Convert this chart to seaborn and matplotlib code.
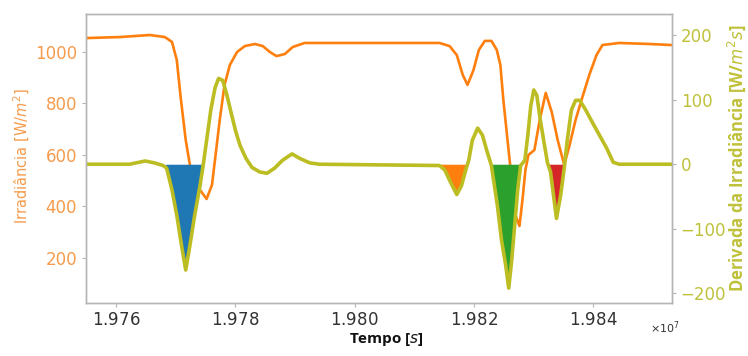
import numpy as np
import seaborn as sns
import matplotlib.pyplot as plt
from matplotlib.ticker import ScalarFormatter

# Irradiance curve
t_irr = np.array([19755000, 19760700, 19765700, 19768200, 19769400, 19770200, 19770900,
                  19771700, 19772400, 19773200, 19774100, 19775200, 19776100, 19776700,
                  19777400, 19778200, 19779100, 19780300, 19781600, 19783300, 19784600,
                  19785800, 19786900, 19788300, 19789600, 19791600, 19807500, 19814200,
                  19815900, 19817100, 19818100, 19818900, 19819900, 19820800, 19821800,
                  19822900, 19823800, 19824400, 19824900, 19825600, 19826300, 19826900,
                  19827600, 19828100, 19828600, 19829100, 19830100, 19831000, 19832000,
                  19833000, 19834000, 19835100, 19836000, 19837000, 19838000, 19839300,
                  19840500, 19841500, 19844300, 19849400, 19853100])
irr = np.array([1054, 1058, 1066, 1058, 1039, 969, 814,
                658, 561, 503, 464, 429, 484, 600,
                736, 872, 950, 1000, 1023, 1031, 1023,
                1000, 984, 992, 1019, 1035, 1035, 1035,
                1023, 988, 911, 872, 930, 1008, 1043,
                1043, 1008, 950, 814, 658, 503, 367,
                324, 425, 542, 600, 619, 736, 841,
                767, 658, 561, 639, 736, 814, 911,
                988, 1027, 1035, 1031, 1027])

# Derivative of irradiance
t_der = np.array([19755000, 19762300, 19764900, 19766500, 19767900, 19768500, 19769400,
                  19770200, 19771000, 19771700, 19772400, 19773200, 19774100, 19774600,
                  19775200, 19775900, 19776600, 19777200, 19777900, 19778600, 19779400,
                  19780100, 19780800, 19781800, 19782800, 19784100, 19785300, 19786600,
                  19787900, 19789500, 19790800, 19792500, 19794100, 19814200, 19815100,
                  19815900, 19817100, 19817900, 19818600, 19819100, 19819700, 19820600,
                  19821400, 19822100, 19822900, 19823400, 19823900, 19824600, 19825300,
                  19825800, 19826300, 19826800, 19827300, 19827800, 19828500, 19829000,
                  19829500, 19830000, 19830500, 19831100, 19831800, 19832300, 19832800,
                  19833300, 19833800, 19834500, 19835100, 19835600, 19836300, 19837000,
                  19837700, 19838700, 19839800, 19841000, 19842200, 19843300, 19844300,
                  19853100])
der = np.array([0, 0, 5, 2, -2, -6, -40,
                -79, -126, -164, -126, -79, -33, -3,
                37, 84, 118, 133, 130, 107, 76,
                50, 29, 9, -5, -12, -14, -6,
                6, 16, 9, 2, 0, -2, -9,
                -25, -47, -33, -9, 6, 37, 56,
                45, 22, -2, -33, -64, -118, -157,
                -192, -149, -95, -40, -2, 6, 45,
                91, 115, 107, 68, 29, 2, -12,
                -48, -84, -48, -6, 37, 84, 99,
                99, 84, 65, 45, 25, 3, 0,
                0])

# shaded dips: (start, end, colour)
dip_start = [19768000, 19814000, 19822800, 19832300]
dip_end = [19774700, 19819000, 19827900, 19835300]
dip_colors = ['#1f77b4', '#ff7f0e', '#2ca02c', '#d62728']

orange = '#ff7f0e'
orange_txt = '#f59b4c'
olive = '#bcbd22'
olive_txt = '#bfc13a'

sns.set_style('ticks')
plt.rcParams['font.family'] = ['DejaVu Sans']

fig, ax1 = plt.subplots(figsize=(7.48, 3.56), dpi=100)
fig.subplots_adjust(left=0.115, right=0.898, bottom=0.149, top=0.961)
ax2 = ax1.twinx()

sns.lineplot(x=t_irr, y=irr, ax=ax1, color=orange, linewidth=1.9, estimator=None)
for a, b, c in zip(dip_start, dip_end, dip_colors):
    mask = (t_der >= a) & (t_der <= b) & (der <= 0)
    ax2.fill_between(t_der, der, 0, where=mask, interpolate=True, color=c, linewidth=0)
sns.lineplot(x=t_der, y=der, ax=ax2, color=olive, linewidth=2.6, estimator=None)

ax1.set_xlim(19755000, 19853100)
ax1.set_ylim(25, 1148)
ax2.set_ylim(-215, 233)
ax1.set_xticks(np.arange(19760000, 19840001, 20000))
ax1.set_yticks([200, 400, 600, 800, 1000])
ax2.set_yticks([-200, -100, 0, 100, 200])

fmt = ScalarFormatter(useMathText=True)
fmt.set_useOffset(False)
ax1.xaxis.set_major_formatter(fmt)
ax1.xaxis.get_offset_text().set_visible(False)
ax1.text(1.014, -0.087, r'$\times10^{7}$', transform=ax1.transAxes, fontsize=8,
         color='#333333', ha='right', va='center')

for ax in (ax1, ax2):
    for s in ax.spines.values():
        s.set_color('#b5b5b5')
        s.set_linewidth(1.0)
ax1.tick_params(axis='x', colors='#b5b5b5', labelcolor='#333333', labelsize=12, length=3, pad=3)
ax1.tick_params(axis='y', colors='#b5b5b5', labelcolor=orange_txt, labelsize=12, length=3)
ax2.tick_params(axis='y', colors='#b5b5b5', labelcolor=olive_txt, labelsize=12, length=3)

ax1.set_ylabel('Irradiância [W/$m^2$]', color=orange_txt, fontsize=10.5)
ax1.yaxis.set_label_coords(-0.092, 0.51)
ax2.set_ylabel('Derivada da Irradiância [W/$m^2s$]', color=olive_txt, fontsize=12,
               fontweight='bold', family=['Open Sans', 'DejaVu Sans'])
ax2.yaxis.set_label_coords(1.092, 0.5)
ax1.set_xlabel('')
fig.text(0.516, 0.045, 'Tempo [$s$]', fontsize=11, fontweight='bold',
         family=['Open Sans', 'DejaVu Sans'], color='#111111', ha='center', va='center')

fig.savefig('out.png')
